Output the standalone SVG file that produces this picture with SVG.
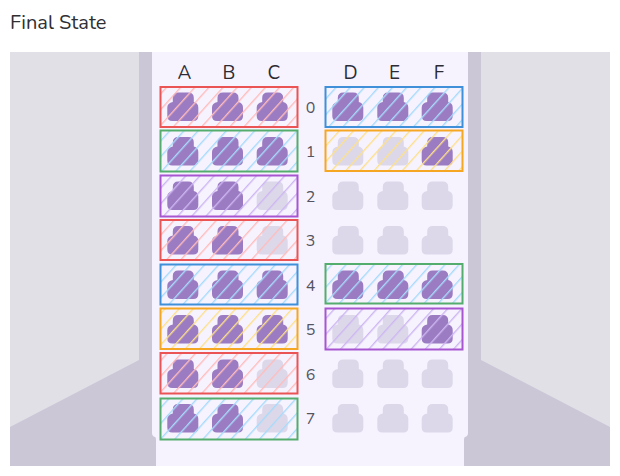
<svg xmlns="http://www.w3.org/2000/svg" width="620" height="476" viewBox="0 0 620 476">
<style>
text{font-family:"Nunito","Lato","Noto Sans",sans-serif}
.title{font-size:20px;fill:#2f2f33}
.col{font-size:19px;fill:#2b2b33;text-anchor:middle}
.row{font-size:16px;fill:#55555f;text-anchor:middle}
.on{fill:#9b7bc2}
.off{fill:#dcd8ea}
.box{stroke-width:2}
.r{stroke:#ea5455;fill:url(#hr)}
.g{stroke:#55ad6d;fill:url(#hb)}
.b{stroke:#3f8fd9;fill:url(#hb)}
.y{stroke:#f5a623;fill:url(#hy)}
.p{stroke:#a855d0;fill:url(#hp)}
</style>
<defs>
<path id="seat" d="M5.500 5.500Q5.500 0 11 0H21Q26.500 0 26.500 5.500V9.500Q31 10.500 31 15V23.500Q31 28.500 26 28.500H5Q0 28.500 0 23.500V15Q0 10.500 5.500 9.500Z"/>
<pattern id="hr" width="10.500" height="10.500" patternUnits="userSpaceOnUse" patternTransform="translate(178 105) rotate(42)"><rect width="1.400" height="10.500" fill="#ffbcbc"/></pattern>
<pattern id="hb" width="10.500" height="10.500" patternUnits="userSpaceOnUse" patternTransform="translate(178 105) rotate(42)"><rect width="1.400" height="10.500" fill="#a6dbfb"/></pattern>
<pattern id="hy" width="10.500" height="10.500" patternUnits="userSpaceOnUse" patternTransform="translate(178 105) rotate(42)"><rect width="1.400" height="10.500" fill="#fde08a"/></pattern>
<pattern id="hp" width="10.500" height="10.500" patternUnits="userSpaceOnUse" patternTransform="translate(178 105) rotate(42)"><rect width="1.400" height="10.500" fill="#cdb6f2"/></pattern>
</defs>
<rect width="620" height="476" fill="#fff"/>
<text class="title" x="10" y="29">Final State</text>
<g id="cabin">
<rect x="10" y="52" width="600" height="414" fill="#e1e0e6"/>
<path d="M10 427L139 360V52H160V466H10Z" fill="#cbc7d7"/>
<path d="M610 427L481 360V52H460V466H610Z" fill="#cbc7d7"/>
<path d="M152 52H468V433Q468 436 465 437Q464 437 464 440V466H156V440Q156 437 155 437Q152 436 152 433Z" fill="#f6f3ff"/>
</g>
<g id="column-labels">
<text class="col" x="184.500" y="79">A</text><text class="col" x="229" y="79">B</text><text class="col" x="274" y="79">C</text>
<text class="col" x="350.500" y="79">D</text><text class="col" x="394.500" y="79">E</text><text class="col" x="439" y="79">F</text>
</g>
<g id="row-labels">
<text class="row" x="310.500" y="112.500">0</text><text class="row" x="310.500" y="156.500">1</text><text class="row" x="310.500" y="201.500">2</text><text class="row" x="310.500" y="246">3</text><text class="row" x="310.500" y="290.500">4</text><text class="row" x="310.500" y="335">5</text><text class="row" x="310.500" y="379.500">6</text><text class="row" x="310.500" y="424">7</text>
</g>
<g id="seats">
<g id="row-0"><use href="#seat" class="on" x="167.300" y="92.500"/><use href="#seat" class="on" x="212" y="92.500"/><use href="#seat" class="on" x="256.700" y="92.500"/><use href="#seat" class="on" x="332.300" y="92.500"/><use href="#seat" class="on" x="377.300" y="92.500"/><use href="#seat" class="on" x="421.700" y="92.500"/></g>
<g id="row-1"><use href="#seat" class="on" x="167.300" y="137"/><use href="#seat" class="on" x="212" y="137"/><use href="#seat" class="on" x="256.700" y="137"/><use href="#seat" class="off" x="332.300" y="137"/><use href="#seat" class="off" x="377.300" y="137"/><use href="#seat" class="on" x="421.700" y="137"/></g>
<g id="row-2"><use href="#seat" class="on" x="167.300" y="181.500"/><use href="#seat" class="on" x="212" y="181.500"/><use href="#seat" class="off" x="256.700" y="181.500"/><use href="#seat" class="off" x="332.300" y="181.500"/><use href="#seat" class="off" x="377.300" y="181.500"/><use href="#seat" class="off" x="421.700" y="181.500"/></g>
<g id="row-3"><use href="#seat" class="on" x="167.300" y="226"/><use href="#seat" class="on" x="212" y="226"/><use href="#seat" class="off" x="256.700" y="226"/><use href="#seat" class="off" x="332.300" y="226"/><use href="#seat" class="off" x="377.300" y="226"/><use href="#seat" class="off" x="421.700" y="226"/></g>
<g id="row-4"><use href="#seat" class="on" x="167.300" y="270.500"/><use href="#seat" class="on" x="212" y="270.500"/><use href="#seat" class="on" x="256.700" y="270.500"/><use href="#seat" class="on" x="332.300" y="270.500"/><use href="#seat" class="on" x="377.300" y="270.500"/><use href="#seat" class="on" x="421.700" y="270.500"/></g>
<g id="row-5"><use href="#seat" class="on" x="167.300" y="315"/><use href="#seat" class="on" x="212" y="315"/><use href="#seat" class="on" x="256.700" y="315"/><use href="#seat" class="off" x="332.300" y="315"/><use href="#seat" class="off" x="377.300" y="315"/><use href="#seat" class="on" x="421.700" y="315"/></g>
<g id="row-6"><use href="#seat" class="on" x="167.300" y="359.500"/><use href="#seat" class="on" x="212" y="359.500"/><use href="#seat" class="off" x="256.700" y="359.500"/><use href="#seat" class="off" x="332.300" y="359.500"/><use href="#seat" class="off" x="377.300" y="359.500"/><use href="#seat" class="off" x="421.700" y="359.500"/></g>
<g id="row-7"><use href="#seat" class="on" x="167.300" y="404"/><use href="#seat" class="on" x="212" y="404"/><use href="#seat" class="off" x="256.700" y="404"/><use href="#seat" class="off" x="332.300" y="404"/><use href="#seat" class="off" x="377.300" y="404"/><use href="#seat" class="off" x="421.700" y="404"/></g>
</g>
<g id="selections">
<rect class="box r" x="160.500" y="87" width="137" height="40"/>
<rect class="box g" x="160.500" y="130.500" width="137" height="41"/>
<rect class="box p" x="160.500" y="175.500" width="137" height="41"/>
<rect class="box r" x="160.500" y="220" width="137" height="40"/>
<rect class="box b" x="160.500" y="264.500" width="137" height="40"/>
<rect class="box y" x="160.500" y="308.500" width="137" height="40.500"/>
<rect class="box r" x="160.500" y="353" width="137" height="40.500"/>
<rect class="box g" x="160.500" y="398.500" width="137" height="41"/>
<rect class="box b" x="325.500" y="87" width="137" height="40"/>
<rect class="box y" x="325.500" y="130.500" width="137" height="40.500"/>
<rect class="box g" x="325.500" y="264" width="137" height="39.500"/>
<rect class="box p" x="325.500" y="308.500" width="137" height="41"/>
</g>
</svg>
